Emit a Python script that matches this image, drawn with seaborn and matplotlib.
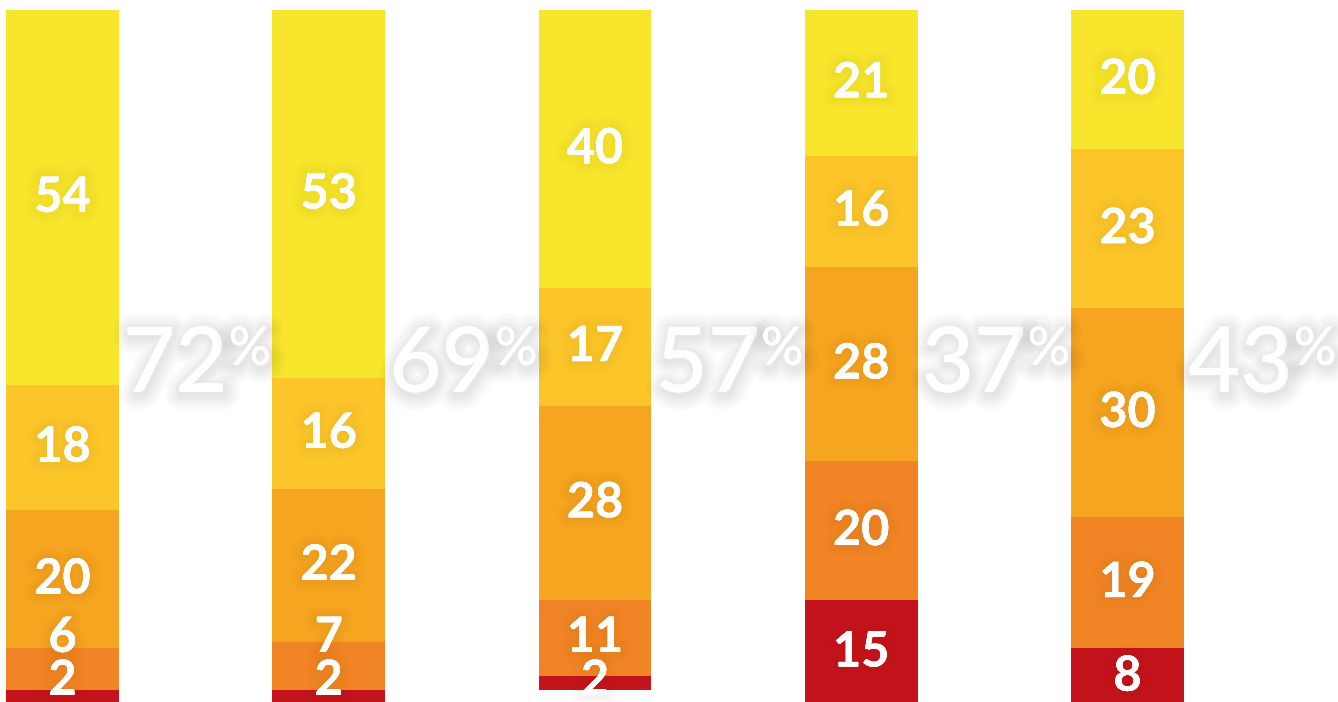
import numpy as np
import pandas as pd
import matplotlib
matplotlib.use("Agg")
import matplotlib.pyplot as plt
import matplotlib.patheffects as pe
import matplotlib.transforms as mtransforms
import seaborn as sns

# Share of answers per group, listed from the top segment down
groups = ["A", "B", "C", "D", "E"]
seg_top = [54, 53, 40, 21, 20]
seg_second = [18, 16, 17, 16, 23]
seg_middle = [20, 22, 28, 28, 30]
seg_fourth = [6, 7, 11, 20, 19]
seg_bottom = [2, 2, 2, 15, 8]
headline = [72, 69, 57, 37, 43]

segments = [seg_top, seg_second, seg_middle, seg_fourth, seg_bottom]
colors = ["#F7E62B", "#FCC62A", "#F5A51F", "#F18424", "#C3131C"]

sns.set_theme(style="white")
plt.rcParams["font.family"] = ["Lato", "DejaVu Sans"]

W, H = 1338, 702
fig = plt.figure(figsize=(W / 100, H / 100), dpi=100)
ax = fig.add_axes([0, 0, 1, 1])

bar_w = 0.424
px_per_unit = 6.94
step_px = 266.25
left_px = 62.5

rows = []
for k, seg in enumerate(segments):
    for g, v in zip(groups, seg):
        rows.append({"group": g, "segment": k, "value": v})
df = pd.DataFrame(rows)

# Bars are stacked downward from the top edge
cum = np.zeros(len(groups))
centers = []
for k, seg in enumerate(segments):
    sub = df[df["segment"] == k]
    sns.barplot(data=sub, x="group", y="value", order=groups, color=colors[k],
                saturation=1, width=bar_w, errorbar=None, bottom=cum,
                linewidth=0, ax=ax)
    centers.append(cum + np.array(seg) / 2)
    cum = cum + np.array(seg)

ax.set_xlim(-left_px / step_px, (W - left_px) / step_px)
ax.set_ylim((H - 10) / px_per_unit, -10 / px_per_unit)
ax.axis("off")

glow = [pe.withStroke(linewidth=w, foreground="#7a3a00", alpha=0.012)
        for w in (16, 12, 8, 5)] + [pe.Normal()]

# Segment labels, nudged apart where segments are thin
bottom_limit = 96.6
min_gap = 6.2
for i in range(len(groups)):
    ys = [centers[k][i] for k in range(len(segments))]
    ys[-1] = min(ys[-1], bottom_limit)
    for k in range(len(ys) - 2, -1, -1):
        ys[k] = min(ys[k], ys[k + 1] - min_gap)
    for k in range(len(segments)):
        ax.text(i, ys[k], f"{segments[k][i]}", ha="center", va="center",
                color="white", fontsize=35, fontweight="bold",
                path_effects=glow, zorder=5)

# Large headline percentages beside each bar
big_glow = [pe.withStroke(linewidth=w, foreground="black", alpha=0.018,
                          offset=(1, -2))
            for w in (22, 17, 12, 8, 4)] + [pe.Normal()]
trans = mtransforms.blended_transform_factory(ax.transData, ax.transAxes)
fig.canvas.draw()
renderer = fig.canvas.get_renderer()
for i, v in enumerate(headline):
    x0 = i + bar_w / 2 + 0.015
    t = ax.text(x0, 0.442, f"{v}", ha="left", va="baseline", color="white",
                fontsize=65, fontweight="medium", transform=trans,
                path_effects=big_glow, zorder=6)
    bb = t.get_window_extent(renderer)
    xr = ax.transData.inverted().transform((bb.x1, 0))[0]
    ax.text(xr + 0.004, 0.442 + 65 / H, "%", ha="left", va="top",
            color="white", fontsize=38, fontweight="medium", transform=trans,
            path_effects=big_glow, zorder=6)

fig.savefig("out.png", dpi=100)
